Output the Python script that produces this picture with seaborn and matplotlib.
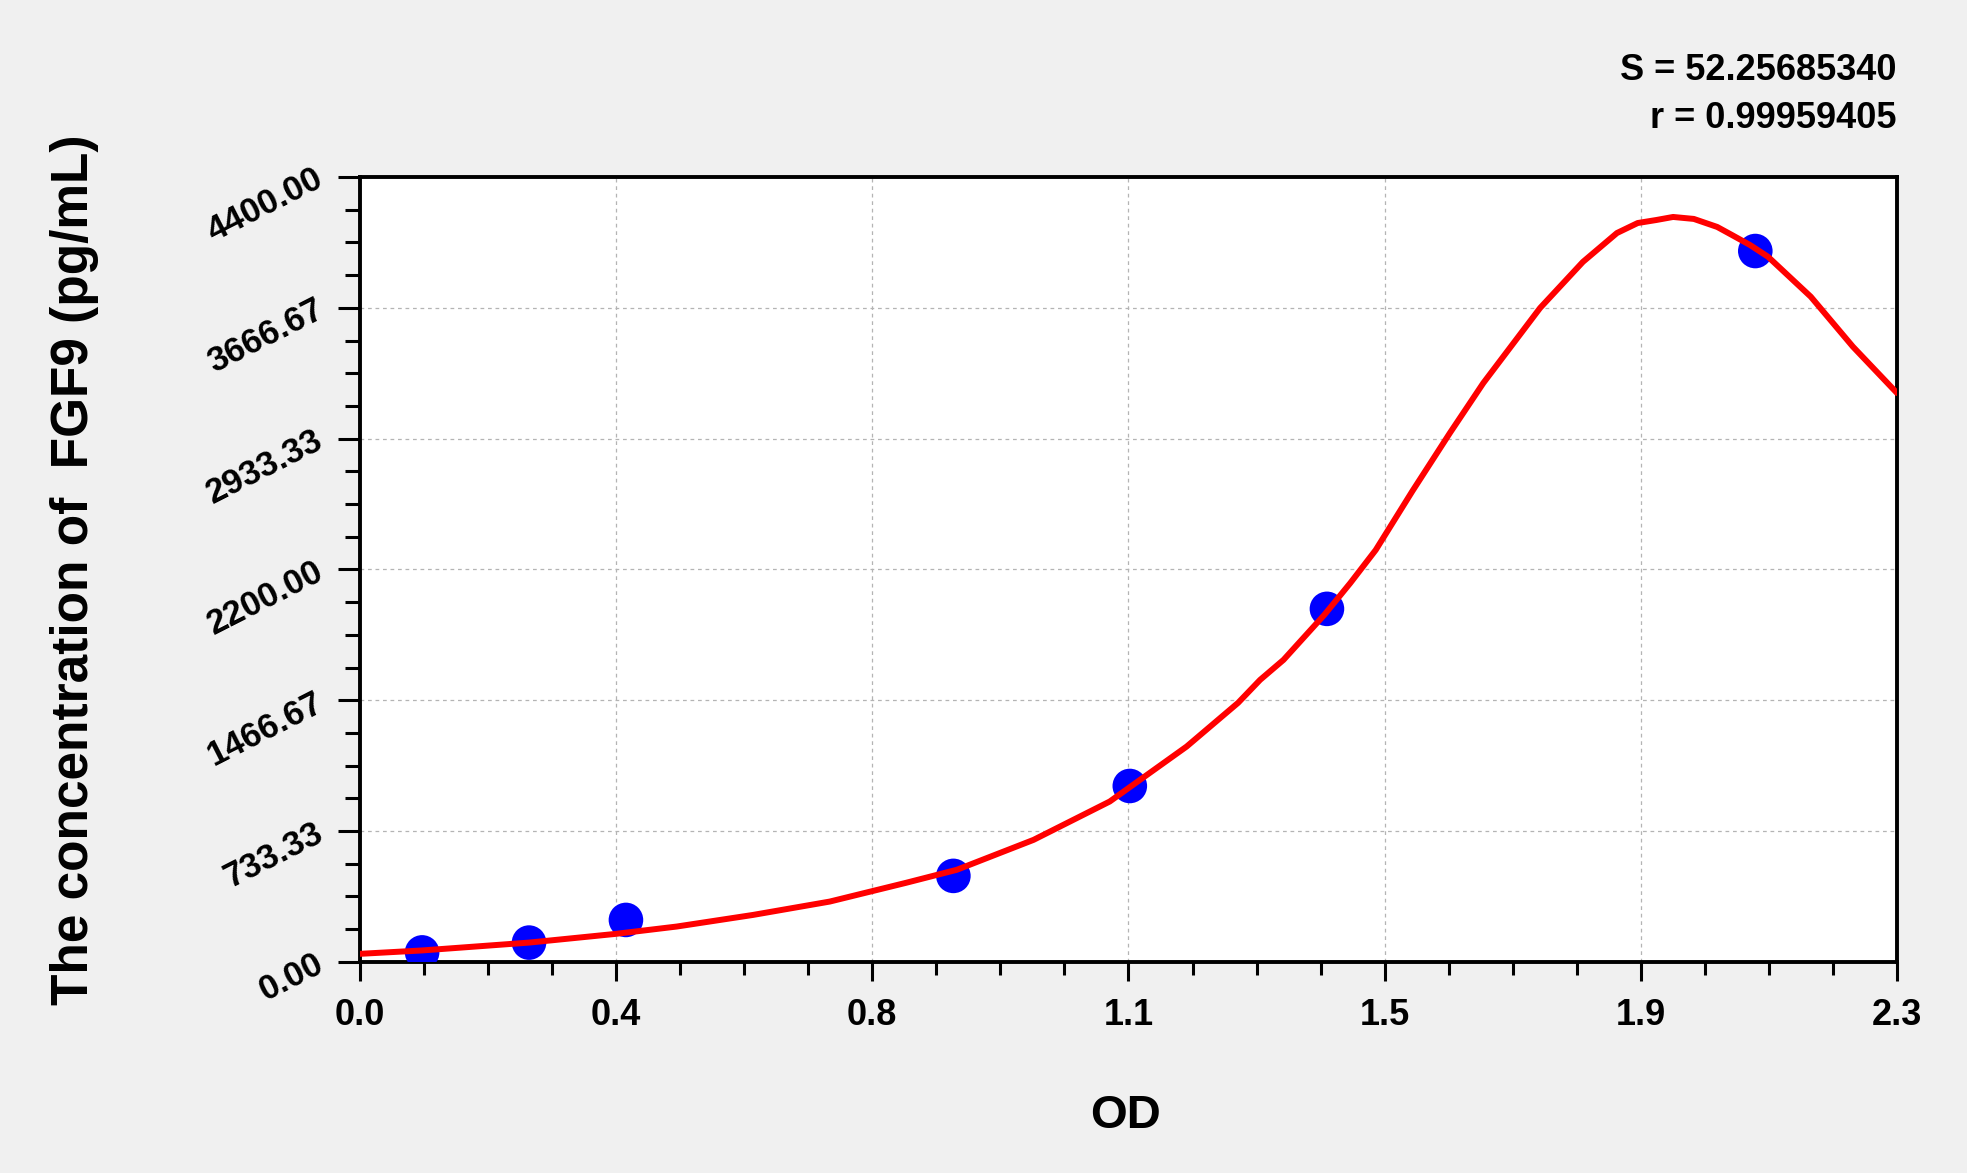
import numpy as np
import pandas as pd
import matplotlib
matplotlib.use("Agg")
import matplotlib.pyplot as plt
import seaborn as sns
from matplotlib.ticker import AutoMinorLocator, FixedLocator, FixedFormatter

# standard points
std_od = [0.093, 0.253, 0.398, 0.888, 1.152, 1.447, 2.088]
std_conc = [53, 108, 235, 482, 986, 1979, 3985]

# fitted curve
curve_od = [0.0, 0.093, 0.253, 0.383, 0.474, 0.588, 0.703, 0.817, 0.893, 1.008,
            1.122, 1.237, 1.314, 1.347, 1.382, 1.443, 1.482, 1.520, 1.575, 1.631,
            1.681, 1.766, 1.830, 1.881, 1.912, 1.940, 1.965, 1.996, 2.031, 2.053,
            2.080, 2.107, 2.171, 2.234, 2.300]
curve_conc = [45, 64, 108, 157, 198, 263, 338, 443, 516, 684,
              899, 1207, 1452, 1581, 1693, 1945, 2124, 2309, 2640, 2965,
              3245, 3666, 3924, 4086, 4142, 4159, 4176, 4165, 4120, 4075,
              4019, 3953, 3729, 3449, 3189]

x_tick_labels = ["0.0", "0.4", "0.8", "1.1", "1.5", "1.9", "2.3"]
y_tick_labels = ["0.00", "733.33", "1466.67", "2200.00", "2933.33", "3666.67", "4400.00"]

stats_text = "S = 52.25685340\nr = 0.99959405"

std_df = pd.DataFrame({"OD": std_od, "conc": std_conc})
curve_df = pd.DataFrame({"OD": curve_od, "conc": curve_conc})

sns.set_style("white")
plt.rcParams["font.family"] = ["Liberation Sans", "DejaVu Sans"]
plt.rcParams["font.weight"] = "bold"
plt.rcParams["text.color"] = "black"
plt.rcParams["axes.labelcolor"] = "black"
plt.rcParams["xtick.color"] = "black"
plt.rcParams["ytick.color"] = "black"

fig = plt.figure(figsize=(19.67, 11.73), dpi=100, facecolor="#f0f0f0")
ax = fig.add_axes([0.183, 0.18, 0.7814, 0.6691])
ax.set_facecolor("white")

sns.scatterplot(data=std_df, x="OD", y="conc", ax=ax, color="#0000ff", s=620,
                edgecolor="none", zorder=3)
sns.lineplot(data=curve_df, x="OD", y="conc", ax=ax, color="#ff0000", linewidth=4.3,
             sort=False, estimator=None, zorder=4)

ax.set_xlim(0, 2.3)
ax.set_ylim(0, 4400)

ax.xaxis.set_major_locator(FixedLocator(np.linspace(0, 2.3, 7)))
ax.xaxis.set_major_formatter(FixedFormatter(x_tick_labels))
ax.yaxis.set_major_locator(FixedLocator(np.linspace(0, 4400, 7)))
ax.yaxis.set_major_formatter(FixedFormatter(y_tick_labels))
ax.xaxis.set_minor_locator(AutoMinorLocator(4))
ax.yaxis.set_minor_locator(AutoMinorLocator(4))

ax.grid(True, which="major", color="#b4b4b4", linestyle=(0, (3, 3)), linewidth=0.9)
ax.set_axisbelow(True)

for sp in ax.spines.values():
    sp.set_visible(True)
    sp.set_color("black")
    sp.set_linewidth(2.8)

ax.tick_params(axis="x", which="major", bottom=True, direction="out", length=14,
               width=2.2, pad=12, labelsize=26)
ax.tick_params(axis="x", which="minor", bottom=True, direction="out", length=9, width=2.2)
ax.tick_params(axis="y", which="major", left=True, direction="out", length=16,
               width=2.2, pad=12, labelsize=25)
ax.tick_params(axis="y", which="minor", left=True, direction="out", length=11, width=2.2)

for lab in ax.get_xticklabels():
    lab.set_fontweight("bold")
for lab in ax.get_yticklabels():
    lab.set_fontweight("bold")
    lab.set_rotation(27)
    lab.set_ha("right")
    lab.set_va("center")
    lab.set_rotation_mode("anchor")

ax.set_xlabel("OD", fontsize=34, fontweight="bold")
ax.set_ylabel("The concentration of  FGF9 (pg/mL)", fontsize=37, fontweight="bold")
ax.xaxis.set_label_coords(0.498, -0.168)
ax.yaxis.set_label_coords(-0.170, 0.5)

ax.text(1.0, 1.105, stats_text, transform=ax.transAxes, ha="right", va="center",
        fontsize=26, fontweight="bold", linespacing=1.5)

fig.savefig("out.png", dpi=100, facecolor=fig.get_facecolor())
